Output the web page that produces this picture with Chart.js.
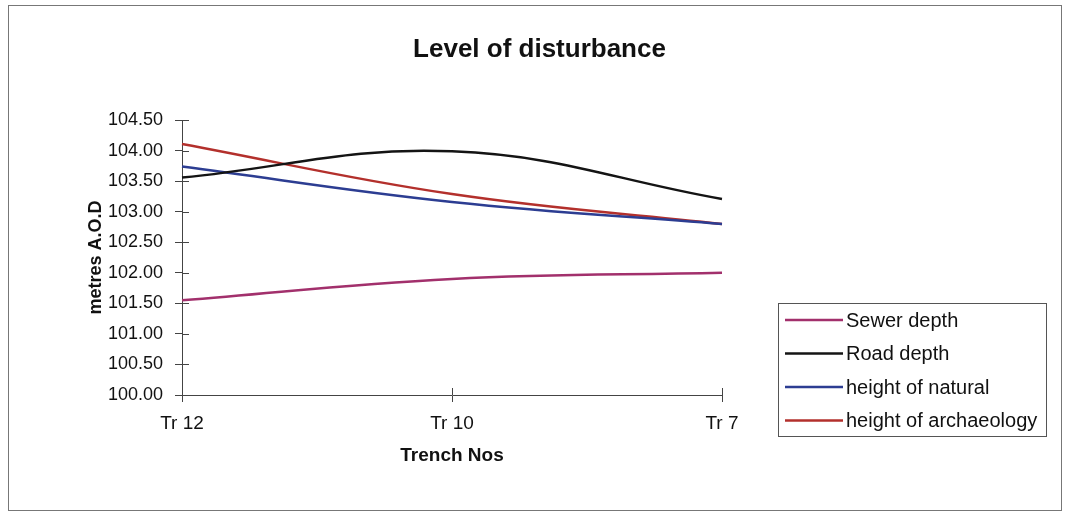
<!DOCTYPE html>
<html>
<head>
<meta charset="utf-8">
<title>Level of disturbance</title>
<script src="https://cdn.jsdelivr.net/npm/chart.js@4.4.1/dist/chart.umd.min.js"></script>
<style>
    html, body { margin: 0; padding: 0; background: #fff; }
    #wrap { position: relative; width: 1069px; height: 517px; }
</style>
</head>
<body>
<div id="wrap"><canvas id="levelChart"></canvas></div>
<script>
// Values (metres A.O.D)
const trenches = ['Tr 12', 'Tr 10', 'Tr 7'];
const sewerDepth = [101.55, 101.90, 102.00];
const roadDepth = [103.56, 103.99, 103.21];
const heightOfNatural = [103.74, 103.16, 102.80];
const heightOfArchaeology = [104.11, 103.29, 102.80];

const seriesNames = ['Sewer depth', 'Road depth', 'height of natural', 'height of archaeology'];
const seriesValues = [sewerDepth, roadDepth, heightOfNatural, heightOfArchaeology];
const seriesColors = ['#a2306c', '#141414', '#2c3d92', '#b3302c'];

const yMin = 100;
const yMax = 104.5;
const yStep = 0.5;

const FONT = "'Liberation Sans', Arial, sans-serif";
const AXIS_COLOR = '#444';
const TICK_LEN = 7;
const W = 1069, H = 517;
const PLOT = {left: 182, right: 722, top: 120, bottom: 395};
const PAD = {left: 10, right: 0, bottom: 40};

// white page + thin frame round the whole chart
const framePlugin = {
    id: 'frame',
    beforeDraw(chart) {
        const ctx = chart.ctx;
        ctx.save();
        ctx.fillStyle = '#fff';
        ctx.fillRect(0, 0, chart.width, chart.height);
        ctx.strokeStyle = '#777';
        ctx.lineWidth = 1;
        ctx.strokeRect(8.5, 5.5, chart.width - 16, chart.height - 12);
        ctx.restore();
    }
};

// Excel style tick marks that cross the axis (outer half comes from the grid)
const crossTicksPlugin = {
    id: 'crossTicks',
    beforeDatasetsDraw(chart) {
        const {ctx, chartArea, scales} = chart;
        ctx.save();
        ctx.strokeStyle = AXIS_COLOR;
        ctx.lineWidth = 1;
        ctx.beginPath();
        scales.y.ticks.forEach((t, i) => {
            const y = Math.round(scales.y.getPixelForTick(i)) + 0.5;
            ctx.moveTo(chartArea.left, y);
            ctx.lineTo(chartArea.left + TICK_LEN, y);
        });
        scales.x.ticks.forEach((t, i) => {
            const x = Math.round(scales.x.getPixelForTick(i)) + 0.5;
            ctx.moveTo(x, chartArea.bottom);
            ctx.lineTo(x, chartArea.bottom - TICK_LEN);
        });
        ctx.stroke();
        ctx.restore();
    }
};

// boxed legend to the right of the plot, like the original
const legendBoxPlugin = {
    id: 'legendBox',
    afterDraw(chart) {
        const ctx = chart.ctx;
        const box = {x: 778, y: 303, w: 268, h: 133};
        ctx.save();
        ctx.strokeStyle = '#555';
        ctx.lineWidth = 1;
        ctx.strokeRect(box.x + 0.5, box.y + 0.5, box.w, box.h);
        ctx.font = '20px ' + FONT;
        ctx.textBaseline = 'middle';
        ctx.fillStyle = '#111';
        chart.data.datasets.forEach((ds, i) => {
            const y = box.y + 17 + i * 33.5;
            ctx.strokeStyle = ds.borderColor;
            ctx.lineWidth = 2.5;
            ctx.beginPath();
            ctx.moveTo(box.x + 7, y);
            ctx.lineTo(box.x + 65, y);
            ctx.stroke();
            ctx.fillText(ds.label, box.x + 68, y + 1);
        });
        ctx.restore();
    }
};

const ctx = document.getElementById('levelChart');

new Chart(ctx, {
    type: 'line',
    data: {
        labels: trenches,
        datasets: seriesNames.map((name, i) => ({
            label: name,
            data: seriesValues[i],
            borderColor: seriesColors[i],
            backgroundColor: seriesColors[i],
            borderWidth: 2.5,
            tension: 0.4,
            pointRadius: 0,
            fill: false,
            clip: false
        }))
    },
    options: {
        responsive: true,
        maintainAspectRatio: false,
        animation: false,
        layout: {
            padding: {left: PAD.left, right: PAD.right, top: 0, bottom: PAD.bottom}
        },
        plugins: {
            legend: {display: false},
            tooltip: {enabled: false},
            title: {
                display: true,
                text: 'Level of disturbance',
                color: '#111',
                font: {family: FONT, size: 26, weight: 'bold', lineHeight: 1.2},
                padding: {top: 34, bottom: 55}
            }
        },
        scales: {
            x: {
                offset: false,
                grid: {drawOnChartArea: false, tickLength: TICK_LEN, color: AXIS_COLOR},
                border: {color: AXIS_COLOR, width: 1},
                ticks: {color: '#111', font: {family: FONT, size: 19}, padding: 10, maxRotation: 0},
                title: {
                    display: true,
                    text: 'Trench Nos',
                    color: '#111',
                    font: {family: FONT, size: 19, weight: 'bold', lineHeight: 1.2},
                    padding: {top: 0, bottom: 10}
                },
                afterFit(scale) { scale.height = H - PAD.bottom - PLOT.bottom; }
            },
            y: {
                min: yMin,
                max: yMax,
                grid: {drawOnChartArea: false, tickLength: TICK_LEN, color: AXIS_COLOR},
                border: {color: AXIS_COLOR, width: 1},
                ticks: {
                    stepSize: yStep,
                    color: '#111',
                    font: {family: FONT, size: 18},
                    padding: 12,
                    callback: value => value.toFixed(2)
                },
                title: {
                    display: true,
                    text: 'metres A.O.D',
                    color: '#111',
                    font: {family: FONT, size: 18, weight: 'bold', lineHeight: 1.2},
                    padding: {top: 75, bottom: 0}
                },
                afterFit(scale) { scale.width = PLOT.left - PAD.left; }
            },
            // empty right-hand axis: only reserves the space the legend sits in
            spacer: {
                type: 'linear',
                position: 'right',
                grid: {display: false},
                border: {display: false},
                ticks: {display: false},
                afterFit(scale) { scale.width = W - PAD.right - PLOT.right; }
            }
        }
    },
    plugins: [framePlugin, crossTicksPlugin, legendBoxPlugin]
});
</script>
</body>
</html>
